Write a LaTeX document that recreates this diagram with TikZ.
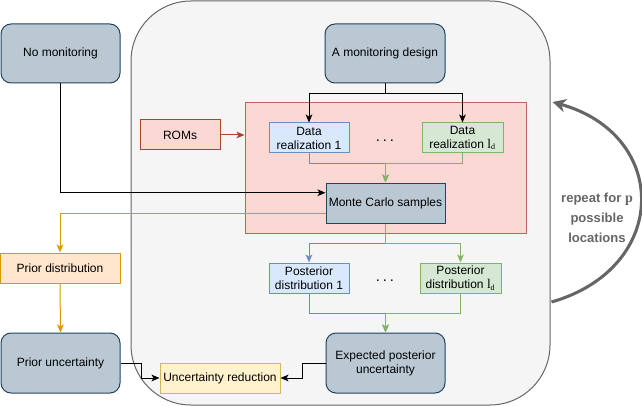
\documentclass[tikz,border=0pt]{standalone}
\usepackage{fontspec}
\setmainfont{Liberation Sans}
\newfontfamily\serifl{Liberation Serif}
\usetikzlibrary{arrows.meta,calc}
\definecolor{slatef}{HTML}{BAC8D3}\definecolor{slated}{HTML}{23445D}
\definecolor{redf}{HTML}{FAD9D5}\definecolor{redd}{HTML}{AE4132}
\definecolor{bluef}{HTML}{DAE8FC}\definecolor{blued}{HTML}{6C8EBF}
\definecolor{greenf}{HTML}{D5E8D4}\definecolor{greend}{HTML}{82B366}
\definecolor{orangef}{HTML}{FFE6CC}\definecolor{oranged}{HTML}{D79B00}
\definecolor{yellowf}{HTML}{FFF2CC}\definecolor{yellowd}{HTML}{D6B656}
\definecolor{greyf}{HTML}{F5F5F5}\definecolor{greyd}{HTML}{666666}
\newcommand{\ld}{{\serifl\fontsize{10}{10}\selectfont l}\textsubscript{\serifl d}}
\newcommand{\mydots}{{\fontsize{11}{11}\selectfont .\hspace{2.2pt}.\hspace{2.2pt}.}}
\tikzset{
  every node/.style={font=\fontsize{9}{10.5}\selectfont, align=center, inner sep=0pt},
  box/.style={draw, line width=0.75pt},
  slatebox/.style={box, fill=slatef, draw=slated, rounded corners=7.5pt},
  slatesq/.style={box, fill=slatef, draw=slated},
  redbox/.style={box, fill=redf, draw=redd},
  bluebox/.style={box, fill=bluef, draw=blued},
  greenbox/.style={box, fill=greenf, draw=greend},
  orangebox/.style={box, fill=orangef, draw=oranged},
  yellowbox/.style={box, fill=yellowf, draw=yellowd},
  conn/.style={line width=0.75pt, -{Stealth[length=6pt,width=5pt,inset=1.5pt]}},
}
\begin{document}
\begin{tikzpicture}[x=0.75pt,y=-0.75pt]
\useasboundingbox (0,0) rectangle (642,406);
% outer container
\node[box, fill=greyf, draw=greyd, rounded corners=45pt, minimum width=419*0.75pt, minimum height=404*0.75pt] (outer) at (340.5,203) {};
% red area
\node[redbox, draw opacity=0.8, minimum width=281*0.75pt, minimum height=130*0.75pt] (red) at (385.5,168) {};
% nodes
\node[slatebox, minimum width=119*0.75pt, minimum height=59*0.75pt] (nomon) at (60.5,53.5) {No monitoring};
\node[slatebox, minimum width=120*0.75pt, minimum height=59*0.75pt] (amd) at (385,53.5) {A monitoring design};
\node[redbox, minimum width=80*0.75pt, minimum height=30*0.75pt] (roms) at (180,135) {ROMs};
\node[bluebox, minimum width=80*0.75pt, minimum height=30*0.75pt] (dr1) at (309,138) {Data\\realization 1};
\node[greenbox, minimum width=81*0.75pt, minimum height=30*0.75pt] (drl) at (462.5,138) {Data\\realization \ld};
\node (dots1) at (385,141) {\mydots};
\node[slatesq, minimum width=119*0.75pt, minimum height=40*0.75pt] (mc) at (385.5,203) {Monte Carlo samples};
\node[bluebox, minimum width=80*0.75pt, minimum height=30*0.75pt] (pd1) at (309,278) {Posterior\\distribution 1};
\node[greenbox, minimum width=81*0.75pt, minimum height=30*0.75pt] (pdl) at (460.5,278) {Posterior\\distribution \ld};
\node (dots2) at (385,281) {\mydots};
\node[slatebox, minimum width=119*0.75pt, minimum height=60*0.75pt] (epu) at (385.5,363) {Expected posterior\\uncertainty};
\node[orangebox, minimum width=120*0.75pt, minimum height=30*0.75pt] (prd) at (60,268) {Prior distribution};
\node[slatebox, minimum width=119*0.75pt, minimum height=60*0.75pt] (pru) at (60.5,363) {Prior uncertainty};
\node[yellowbox, minimum width=120*0.75pt, minimum height=30*0.75pt] (ur) at (220,378) {Uncertainty reduction};
% connectors
\coordinate (mcin) at ($(mc.north west)!0.25!(mc.south west)$);
\coordinate (mcout) at ($(mc.north west)!0.75!(mc.south west)$);
\draw[conn] (nomon.south) |- (mcin);
\draw[conn] (amd.south) -- ++(0,10) -| (dr1.north);
\draw[conn] (amd.south) -- ++(0,10) -| (drl.north);
\draw[conn, redd] (roms.east) -- (red.west |- roms.east);
\draw[conn, blued] (dr1.south) -- ++(0,10) -| (mc.north);
\draw[conn, greend] (drl.south) -- ++(0,10) -| (mc.north);
\draw[conn, oranged] (mcout) -| (prd.north);
\draw[conn, blued] (mc.south) -- ++(0,20) -| (pd1.north);
\draw[conn, greend] (mc.south) -- ++(0,20) -| (pdl.north);
\draw[conn, blued] (pd1.south) -- ++(0,20) -| (epu.north);
\draw[conn, greend] (pdl.south) -- ++(0,20) -| (epu.north);
\draw[conn, oranged] (prd.south) -- (pru.north);
\draw[conn] (pru.east) -- ++(21,0) |- (ur.west);
\draw[conn] (epu.west) -- ++(-23,0) |- (ur.east);
% repeat loop
\coordinate (ls) at ($(outer.east)+(1,99)$);
\coordinate (le) at ($(outer.east)+(2,-101)$);
\draw[line width=2.3pt, greyd, -{Stealth[length=10pt,width=10pt,inset=3pt]}] (ls) .. controls (670,268) and (670,135) .. (le);
\node[font=\fontsize{9.8}{15}\selectfont\bfseries, text=greyd] (lab) at (597,218) {repeat for {\serifl\fontsize{10.5}{15}\selectfont p}\\possible\\locations};
\end{tikzpicture}
\end{document}
